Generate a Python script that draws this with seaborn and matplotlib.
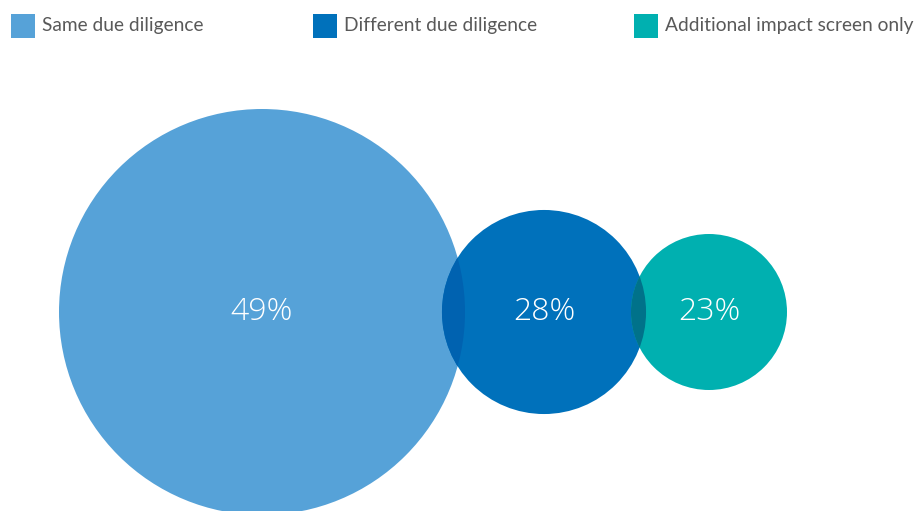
import matplotlib
matplotlib.use("Agg")
import matplotlib.pyplot as plt
from matplotlib.patches import Circle, Rectangle
import seaborn as sns
import pandas as pd

# Share of investors by due-diligence approach
categories = ["Same due diligence", "Different due diligence", "Additional impact screen only"]
values = [49, 28, 23]
labels = ["49%", "28%", "23%"]

colors = ["#56a2d8", "#0071bb", "#00b0b0"]
overlap_colors = ["#0062b0", "#00728a"]

sns.set_theme(style="white")
plt.rcParams["font.family"] = ["Lato", "DejaVu Sans"]

W, H, DPI = 918, 511, 100
fig = plt.figure(figsize=(W / DPI, H / DPI), dpi=DPI)
ax = fig.add_axes([0, 0, 1, 1])
ax.set_xlim(0, W)
ax.set_ylim(H, 0)
ax.set_axis_off()

# radius scale: linear from value domain to pixel range
vmin, vmax = min(values), max(values)
rmin, rmax = 78, 203
radii = [rmin + (v - vmin) / (vmax - vmin) * (rmax - rmin) for v in values]
centers_x = [262, 544, 709]
center_y = 312

df = pd.DataFrame({"category": categories, "value": values,
                   "x": centers_x, "y": [center_y] * 3})
# marker area in points^2 so that diameter matches the pixel radius
sizes = [(2 * r * 72 / DPI) ** 2 for r in radii]
sns.scatterplot(data=df, x="x", y="y", hue="category", palette=colors,
                s=sizes, linewidth=0, legend=False, ax=ax, zorder=2)
ax.set_xlim(0, W)
ax.set_ylim(H, 0)

# darker lens where neighbouring circles overlap
for i in range(2):
    clip = Circle((centers_x[i], center_y), radii[i], transform=ax.transData,
                  facecolor="none", edgecolor="none")
    ax.add_patch(clip)
    lens = Circle((centers_x[i + 1], center_y), radii[i + 1],
                  facecolor=overlap_colors[i], edgecolor="none", zorder=3)
    ax.add_patch(lens)
    lens.set_clip_path(clip)

for x, lab in zip(centers_x, labels):
    ax.text(x, center_y, lab, ha="center", va="center", color="white",
            fontsize=23, family=["Open Sans", "DejaVu Sans"],
            fontweight="light", zorder=5)

# legend row
legend_x = [11, 313, 634]
for x, cat, col in zip(legend_x, categories, colors):
    ax.add_patch(Rectangle((x, 14), 24, 24, facecolor=col, edgecolor="none"))
    ax.text(x + 31, 25, cat, ha="left", va="center", color="#595959",
            fontsize=13.8)

fig.savefig("out.png", dpi=DPI)
